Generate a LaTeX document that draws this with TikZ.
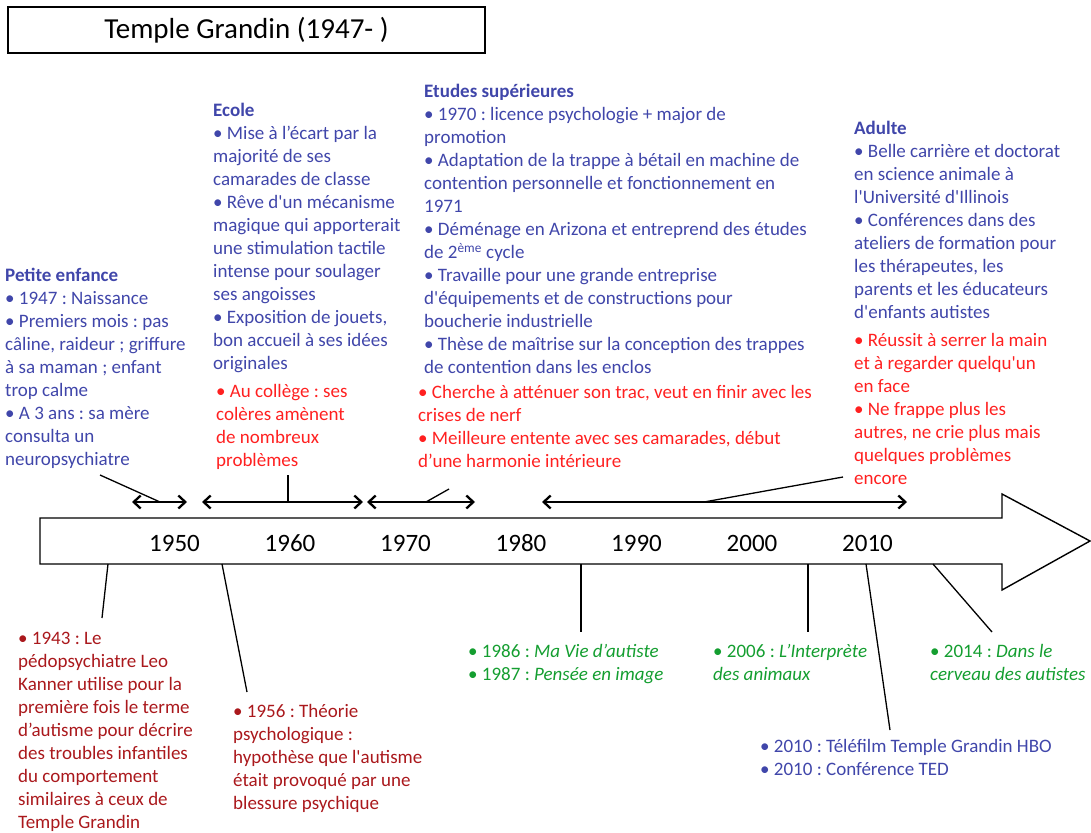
\documentclass[tikz,border=0pt]{standalone}
\usepackage{fontspec}
\setmainfont{Carlito}[Ligatures=TeXOff]
\frenchspacing
\usetikzlibrary{arrows.meta}
\definecolor{tblue}{RGB}{64,70,170}
\definecolor{tred}{RGB}{255,32,32}
\definecolor{tdred}{RGB}{170,24,28}
\definecolor{tgreen}{RGB}{20,158,48}
\tikzset{
  txt/.style={anchor=north west, inner sep=0pt, align=left, font=\fontsize{19}{23}\selectfont},
  blue/.style={txt, text=tblue},
  red/.style={txt, text=tred},
  dred/.style={txt, text=tdred},
  green/.style={txt, text=tgreen},
  year/.style={inner sep=0pt, font=\fontsize{25}{30}\selectfont},
  conn/.style={line width=1.3pt, black},
  span/.style={line width=1.3pt, black, {Straight Barb[length=7pt,width=13pt,line width=2.3pt]}-{Straight Barb[length=7pt,width=13pt,line width=2.3pt]}},
  bar/.style={line width=1.4pt, black, fill=white},
}
\begin{document}
\begin{tikzpicture}[x=1pt,y=-1pt]
\useasboundingbox (0,0) rectangle (1091,832);
% title
\node[draw, line width=1.2pt, minimum width=477pt, minimum height=46pt, inner sep=0pt,
      font=\fontsize{29}{34}\selectfont] (title) at (246.5,30) {\raisebox{-4pt}{Temple Grandin (1947- )}};
% timeline bar
\draw[bar] (40,518) -- (1002,518) -- (1002,494) -- (1090,541) -- (1002,590) -- (1002,564) -- (40,564) -- cycle;
\node[year] (y1950) at (174.5,543) {1950};
\node[year] (y1960) at (290,543) {1960};
\node[year] (y1970) at (405.5,543) {1970};
\node[year] (y1980) at (521,543) {1980};
\node[year] (y1990) at (636.5,543) {1990};
\node[year] (y2000) at (752,543) {2000};
\node[year] (y2010) at (867.5,543) {2010};
% upper texts
\node[blue] (pe) at (5,265) {\strut\textbf{Petite enfance}\\
• 1947 : Naissance\\
• Premiers mois : pas\\
câline, raideur ; griffure\\
à sa maman ; enfant\\
trop calme\\
• A 3 ans : sa mère\\
consulta un\\
neuropsychiatre};
\node[blue] (ecole) at (213,100) {\strut\textbf{Ecole}\\
• Mise à l’écart par la\\
majorité de ses\\
camarades de classe\\
• Rêve d'un mécanisme\\
magique qui apporterait\\
une stimulation tactile\\
intense pour soulager\\
ses angoisses\\
• Exposition de jouets,\\
bon accueil à ses idées\\
originales};
\node[red] (ecoler) at (216,381) {\strut• Au collège : ses\\
colères amènent\\
de nombreux\\
problèmes};
\node[blue] (etudes) at (424,81) {\strut\textbf{Etudes supérieures}\\
• 1970 : licence psychologie + major de\\
promotion\\
• Adaptation de la trappe à bétail en machine de\\
contention personnelle et fonctionnement en\\
1971\\
• Déménage en Arizona et entreprend des études\\
de 2\textsuperscript{ème} cycle\\
• Travaille pour une grande entreprise\\
d'équipements et de constructions pour\\
boucherie industrielle\\
• Thèse de maîtrise sur la conception des trappes\\
de contention dans les enclos};
\node[red] (etudesr) at (418,382) {\strut• Cherche à atténuer son trac, veut en finir avec les\\
crises de nerf\\
• Meilleure entente avec ses camarades, début\\
d’une harmonie intérieure};
\node[blue] (adulte) at (854,118) {\strut\textbf{Adulte}\\
• Belle carrière et doctorat\\
en science animale à\\
l'Université d'Illinois\\
• Conférences dans des\\
ateliers de formation pour\\
les thérapeutes, les\\
parents et les éducateurs\\
d'enfants autistes};
\node[red] (adulter) at (854,330) {\strut• Réussit à serrer la main\\
et à regarder quelqu'un\\
en face\\
• Ne frappe plus les\\
autres, ne crie plus mais\\
quelques problèmes\\
encore};
% lower texts
\node[dred] (k1943) at (18,628) {\strut• 1943 : Le\\
pédopsychiatre Leo\\
Kanner utilise pour la\\
première fois le terme\\
d’autisme pour décrire\\
des troubles infantiles\\
du comportement\\
similaires à ceux de\\
Temple Grandin};
\node[dred] (t1956) at (233,701) {\strut• 1956 : Théorie\\
psychologique :\\
hypothèse que l'autisme\\
était provoqué par une\\
blessure psychique};
\node[green] (b1986) at (468,641) {\strut• 1986 : \textit{Ma Vie d’autiste}\\
• 1987 : \textit{Pensée en image}};
\node[green] (b2006) at (713,641) {\strut• 2006 : \textit{L’Interprète}\\
\textit{des animaux}};
\node[green] (b2014) at (930,641) {\strut• 2014 : \textit{Dans le}\\
\textit{cerveau des autistes}};
\node[blue] (f2010) at (760,736) {\strut• 2010 : Téléfilm Temple Grandin HBO\\
• 2010 : Conférence TED};
% span arrows above the bar
\coordinate (s1a) at (132,502); \coordinate (s1b) at (187,502);
\coordinate (s2a) at (202,502); \coordinate (s2b) at (363,502);
\coordinate (s3a) at (367,502); \coordinate (s3b) at (475,502);
\coordinate (s4a) at (542,502); \coordinate (s4b) at (907,502);
\draw[span] (s1a) -- (s1b);
\draw[span] (s2a) -- (s2b);
\draw[span] (s3a) -- (s3b);
\draw[span] (s4a) -- (s4b);
% connectors to the spans
\coordinate (c1t) at (100,475); \coordinate (c1b) at (160,502);
\coordinate (c2t) at (288,475); \coordinate (c2b) at (288,502);
\coordinate (c3t) at (449,489); \coordinate (c3b) at (426,502);
\coordinate (c4t) at (843,477); \coordinate (c4b) at (704,502);
\draw[conn] (c1t) -- (c1b);
\draw[conn] (c2t) -- (c2b);
\draw[conn] (c3t) -- (c3b);
\draw[conn] (c4t) -- (c4b);
% connectors below the bar
\coordinate (d1t) at (108,564); \coordinate (d1b) at (102,618);
\coordinate (d2t) at (222,564); \coordinate (d2b) at (247,692);
\coordinate (d3t) at (581,564); \coordinate (d3b) at (581,632);
\coordinate (d4t) at (808,564); \coordinate (d4b) at (808,632);
\coordinate (d5t) at (866,564); \coordinate (d5b) at (890,730);
\coordinate (d6t) at (933,564); \coordinate (d6b) at (992,632);
\draw[conn] (d1t) -- (d1b);
\draw[conn] (d2t) -- (d2b);
\draw[conn] (d3t) -- (d3b);
\draw[conn] (d4t) -- (d4b);
\draw[conn] (d5t) -- (d5b);
\draw[conn] (d6t) -- (d6b);
\end{tikzpicture}
\end{document}
